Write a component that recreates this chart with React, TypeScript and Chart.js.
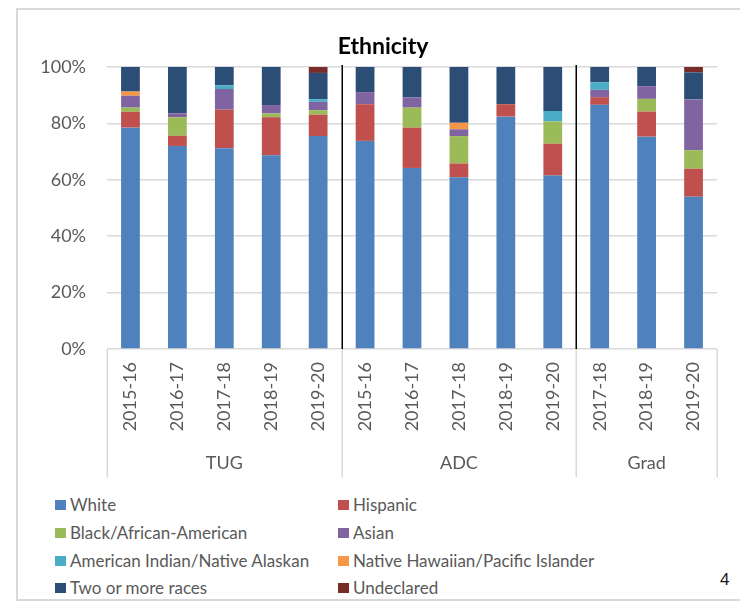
import React, { useEffect, useRef } from "react";
import { Chart, registerables } from "chart.js";

Chart.register(...registerables);

const categories = [
  "2015-16", "2016-17", "2017-18", "2018-19", "2019-20",
  "2015-16", "2016-17", "2017-18", "2018-19", "2019-20",
  "2017-18", "2018-19", "2019-20",
];
const groupLabels = ["TUG", "ADC", "Grad"];
const groupSizes = [5, 5, 3];

const white = [78.5, 72.0, 71.2, 68.7, 75.5, 73.8, 64.2, 60.9, 82.4, 61.5, 86.6, 75.3, 54.0];
const hispanic = [5.6, 3.6, 13.7, 13.5, 7.6, 13.0, 14.3, 4.9, 4.4, 11.3, 2.7, 8.9, 9.9];
const black = [1.5, 6.6, 0, 1.3, 1.6, 0, 7.1, 9.7, 0, 7.9, 0, 4.5, 6.6];
const asian = [4.2, 1.4, 7.3, 3.0, 2.95, 4.3, 3.6, 2.4, 0, 0, 2.6, 4.5, 18.0];
const amIndian = [0, 0, 1.3, 0, 0.95, 0, 0, 0, 0, 3.7, 2.7, 0, 0];
const hawaiian = [1.5, 0, 0, 0, 0, 0, 0, 2.3, 0, 0, 0, 0, 0];
const twoOrMore = [8.7, 16.4, 6.5, 13.5, 9.3, 8.9, 10.8, 19.8, 13.2, 15.6, 5.4, 6.8, 9.6];
const undeclared = [0, 0, 0, 0, 2.1, 0, 0, 0, 0, 0, 0, 0, 1.9];

const seriesNames = [
  "White", "Hispanic", "Black/African-American", "Asian",
  "American Indian/Native Alaskan", "Native Hawaiian/Pacific Islander",
  "Two or more races", "Undeclared",
];
const seriesValues = [white, hispanic, black, asian, amIndian, hawaiian, twoOrMore, undeclared];
const seriesColors = ["#4F81BD", "#C0504D", "#9BBB59", "#8064A2", "#4BACC6", "#F79646", "#2C4D75", "#772C2A"];

const yTicks = [0, 20, 40, 60, 80, 100];
const titleText = "Ethnicity";
const pageNumber = "4";

const FONT = "Lato, 'Open Sans', sans-serif";
const TEXT_GRAY = "#595959";

const groupPlugin = {
  id: "groupPlugin",
  afterDraw(chart: any) {
    const { ctx, chartArea, scales } = chart;
    const x = scales.x;
    const n = categories.length;
    const step = (x.getPixelForValue(n - 1) - x.getPixelForValue(0)) / (n - 1);
    const boundary = (i: number) => x.getPixelForValue(0) - step / 2 + step * i;

    const bounds: number[] = [0];
    let acc = 0;
    groupSizes.forEach((s) => { acc += s; bounds.push(acc); });

    ctx.save();
    ctx.strokeStyle = "#d9d9d9";
    ctx.lineWidth = 1.5;
    bounds.forEach((b) => {
      const px = Math.round(boundary(b)) + 0.25;
      ctx.beginPath();
      ctx.moveTo(px, chartArea.bottom);
      ctx.lineTo(px, chartArea.bottom + 128);
      ctx.stroke();
    });
    ctx.strokeStyle = "#000000";
    ctx.lineWidth = 1.5;
    bounds.slice(1, -1).forEach((b) => {
      const px = Math.round(boundary(b)) + 0.25;
      ctx.beginPath();
      ctx.moveTo(px, chartArea.top - 2);
      ctx.lineTo(px, chartArea.bottom);
      ctx.stroke();
    });
    ctx.fillStyle = TEXT_GRAY;
    ctx.font = `18px ${FONT}`;
    ctx.textAlign = "center";
    ctx.textBaseline = "middle";
    groupLabels.forEach((g, i) => {
      const cx = (boundary(bounds[i]) + boundary(bounds[i + 1])) / 2;
      ctx.fillText(g, cx, chartArea.bottom + 114);
    });
    ctx.fillStyle = "#000000";
    ctx.font = `bold 23px ${FONT}`;
    ctx.fillText(titleText, 375, 39);
    ctx.restore();
  },
};

export default function App() {
  const canvasRef = useRef<HTMLCanvasElement | null>(null);

  useEffect(() => {
    if (!canvasRef.current) return;
    const chart = new Chart(canvasRef.current, {
      type: "bar",
      data: {
        labels: categories,
        datasets: seriesNames.map((name, i) => ({
          label: name,
          data: seriesValues[i],
          backgroundColor: seriesColors[i],
          borderWidth: 0,
          categoryPercentage: 1,
          barPercentage: 0.4,
        })),
      },
      options: {
        animation: false,
        responsive: false,
        devicePixelRatio: 1,
        layout: { padding: { top: 59, right: 23, left: 0, bottom: 0 } },
        plugins: {
          legend: { display: false },
          title: { display: false },
          tooltip: { enabled: false },
        },
        scales: {
          x: {
            stacked: true,
            grid: { display: false, drawTicks: false },
            border: { display: false },
            ticks: {
              color: TEXT_GRAY,
              font: { family: FONT, size: 18 },
              minRotation: 90,
              maxRotation: 90,
              padding: 13,
              autoSkip: false,
            },
            afterFit: (scale: any) => { scale.height = 139; },
          },
          y: {
            stacked: true,
            min: 0,
            max: 100,
            afterBuildTicks: (scale: any) => {
              scale.ticks = yTicks.map((v) => ({ value: v }));
            },
            grid: { color: "#d9d9d9", lineWidth: 1.5, drawTicks: false },
            border: { display: false },
            ticks: {
              color: TEXT_GRAY,
              font: { family: FONT, size: 18 },
              padding: 21,
              callback: (v: any) => `${v}%`,
            },
            afterFit: (scale: any) => { scale.width = 99; },
          },
        },
      },
      plugins: [groupPlugin],
    });
    return () => chart.destroy();
  }, []);

  const rowTops = [487, 515, 543, 570];
  const colLefts = [47, 330];

  return (
    <div style={{ position: "relative", width: 732, height: 596 }}>
      <div
        style={{
          position: "absolute", left: 8, top: 0, width: 731, height: 593,
          border: "2px solid #d9d9d9", boxSizing: "border-box",
        }}
      />
      <canvas
        ref={canvasRef}
        width={732}
        height={480}
        style={{ position: "absolute", left: 0, top: 0, width: 732, height: 480 }}
      />
      {seriesNames.map((name, i) => (
        <div
          key={name}
          style={{
            position: "absolute",
            left: colLefts[i % 2],
            top: rowTops[Math.floor(i / 2)],
            display: "flex",
            alignItems: "center",
            height: 20,
            lineHeight: "20px",
            fontFamily: FONT,
            fontSize: 17,
            color: TEXT_GRAY,
            whiteSpace: "nowrap",
          }}
        >
          <span style={{ display: "inline-block", width: 11, height: 10, background: seriesColors[i], marginRight: 4 }} />
          <span>{name}</span>
        </div>
      ))}
      <div
        style={{
          position: "absolute", left: 712, top: 562, fontFamily: "'Liberation Sans', Arial, sans-serif",
          fontSize: 17, color: "#1a1a1a", lineHeight: "20px",
        }}
      >
        {pageNumber}
      </div>
    </div>
  );
}
